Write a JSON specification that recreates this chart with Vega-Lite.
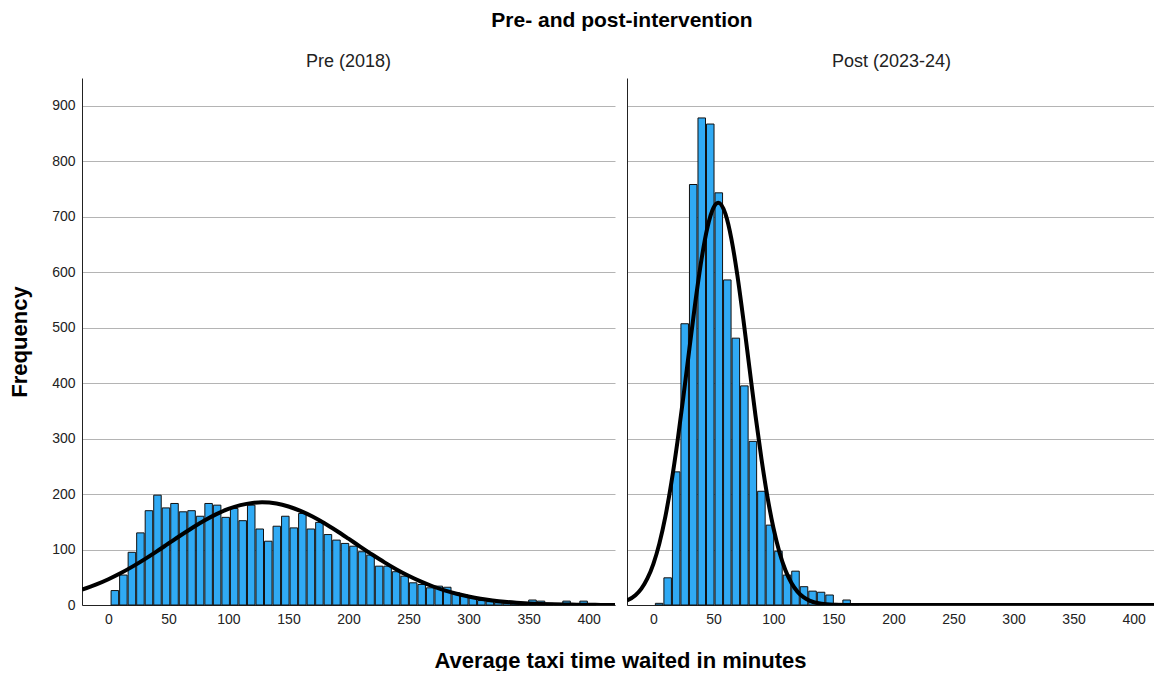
{
  "$schema": "https://vega.github.io/schema/vega-lite/v6.json",
  "background": "white",
  "padding": {"left": 8, "top": 10, "right": 0, "bottom": 0},
  "bounds": "flush",
  "spacing": 12,
  "title": {"text": "Pre- and post-intervention", "font": "Liberation Sans", "fontSize": 21, "fontWeight": "bold", "color": "#000", "anchor": "middle", "frame": "group", "dx": 540, "offset": 22},
  "config": {
    "font": "Liberation Sans",
    "view": {"stroke": null},
    "axis": {"labelFont": "Liberation Sans", "labelFontSize": 14, "labelColor": "#222", "ticks": false, "domainColor": "#222", "domainWidth": 1, "gridColor": "#b4b4b4", "gridWidth": 1, "titleFont": "Liberation Sans", "titleFontWeight": "bold", "titleFontSize": 22, "titleColor": "#000"},
    "title": {"font": "Liberation Sans", "fontSize": 18, "fontWeight": "normal", "color": "#222", "offset": 7}
  },
  "resolve": {"scale": {"x": "independent", "y": "shared"}},
  "datasets": {
    "pre_bars": [
      {"start": 1.4, "count": 26}, {"start": 8.5, "count": 54}, {"start": 15.6, "count": 95}, {"start": 22.7, "count": 130}, {"start": 29.8, "count": 170},
      {"start": 36.9, "count": 198}, {"start": 44, "count": 175}, {"start": 51.1, "count": 183}, {"start": 58.2, "count": 168}, {"start": 65.3, "count": 170},
      {"start": 72.4, "count": 160}, {"start": 79.5, "count": 183}, {"start": 86.6, "count": 180}, {"start": 93.7, "count": 158}, {"start": 100.8, "count": 174},
      {"start": 107.9, "count": 152}, {"start": 115, "count": 180}, {"start": 122.1, "count": 137}, {"start": 129.2, "count": 115}, {"start": 136.3, "count": 142},
      {"start": 143.4, "count": 160}, {"start": 150.5, "count": 139}, {"start": 157.6, "count": 165}, {"start": 164.7, "count": 137}, {"start": 171.8, "count": 149},
      {"start": 178.9, "count": 127}, {"start": 186, "count": 117}, {"start": 193.1, "count": 111}, {"start": 200.2, "count": 106}, {"start": 207.3, "count": 96},
      {"start": 214.4, "count": 90}, {"start": 221.5, "count": 70}, {"start": 228.6, "count": 70}, {"start": 235.7, "count": 60}, {"start": 242.8, "count": 52},
      {"start": 249.9, "count": 40}, {"start": 257, "count": 37}, {"start": 264.1, "count": 31}, {"start": 271.2, "count": 34}, {"start": 278.3, "count": 32},
      {"start": 285.4, "count": 22}, {"start": 292.5, "count": 18}, {"start": 299.6, "count": 15}, {"start": 306.7, "count": 8}, {"start": 313.8, "count": 6},
      {"start": 320.9, "count": 4}, {"start": 328, "count": 3}, {"start": 335.1, "count": 2}, {"start": 342.2, "count": 2}, {"start": 349.3, "count": 9},
      {"start": 356.4, "count": 7}, {"start": 363.5, "count": 3}, {"start": 370.6, "count": 2}, {"start": 377.7, "count": 7}, {"start": 384.8, "count": 2},
      {"start": 391.9, "count": 7}, {"start": 399, "count": 1}
    ],
    "post_bars": [
      {"start": 0.8, "count": 3}, {"start": 7.9, "count": 49}, {"start": 15, "count": 240}, {"start": 22.1, "count": 507}, {"start": 29.2, "count": 758},
      {"start": 36.3, "count": 878}, {"start": 43.4, "count": 867}, {"start": 50.5, "count": 743}, {"start": 57.6, "count": 586}, {"start": 64.7, "count": 481},
      {"start": 71.8, "count": 395}, {"start": 78.9, "count": 295}, {"start": 86, "count": 205}, {"start": 93.1, "count": 144}, {"start": 100.2, "count": 97},
      {"start": 107.3, "count": 54}, {"start": 114.4, "count": 61}, {"start": 121.5, "count": 33}, {"start": 128.6, "count": 25}, {"start": 135.7, "count": 23},
      {"start": 142.8, "count": 18}, {"start": 149.9, "count": 3}, {"start": 157, "count": 9}, {"start": 164.1, "count": 2}
    ],
    "pre_curve": [
      {"x": -22, "y": 27.8}, {"x": -10, "y": 37.1}, {"x": 0, "y": 46.5}, {"x": 10, "y": 57.2}, {"x": 20, "y": 69.2}, {"x": 30, "y": 82.3},
      {"x": 40, "y": 96.3}, {"x": 50, "y": 110.8}, {"x": 60, "y": 125.3}, {"x": 70, "y": 139.3}, {"x": 80, "y": 152.3}, {"x": 90, "y": 163.8},
      {"x": 100, "y": 173.2}, {"x": 110, "y": 180.0}, {"x": 120, "y": 184.0}, {"x": 128, "y": 185}, {"x": 140, "y": 182.8}, {"x": 150, "y": 177.6},
      {"x": 160, "y": 169.7}, {"x": 170, "y": 159.4}, {"x": 180, "y": 147.3}, {"x": 190, "y": 133.8}, {"x": 200, "y": 119.5}, {"x": 210, "y": 104.9},
      {"x": 220, "y": 90.6}, {"x": 230, "y": 76.9}, {"x": 240, "y": 64.2}, {"x": 250, "y": 52.7}, {"x": 260, "y": 42.6}, {"x": 270, "y": 33.8},
      {"x": 280, "y": 26.4}, {"x": 290, "y": 20.2}, {"x": 300, "y": 15.3}, {"x": 310, "y": 11.3}, {"x": 320, "y": 8.3}, {"x": 330, "y": 5.9},
      {"x": 340, "y": 4.2}, {"x": 350, "y": 2.9}, {"x": 360, "y": 2.0}, {"x": 370, "y": 1.3}, {"x": 380, "y": 0.9}, {"x": 390, "y": 0.6},
      {"x": 400, "y": 0.4}, {"x": 410, "y": 0.2}, {"x": 422, "y": 0.1}
    ],
    "post_curve": [
      {"x": -22, "y": 8.0}, {"x": -15, "y": 17.6}, {"x": -10, "y": 29.6}, {"x": -5, "y": 47.8}, {"x": 0, "y": 74.3}, {"x": 5, "y": 111.1},
      {"x": 10, "y": 159.8}, {"x": 15, "y": 221}, {"x": 20, "y": 293.9}, {"x": 25, "y": 375.8}, {"x": 30, "y": 462.3}, {"x": 35, "y": 546.9},
      {"x": 40, "y": 622.1}, {"x": 45, "y": 680.6}, {"x": 50, "y": 716}, {"x": 54, "y": 725}, {"x": 60, "y": 704.9}, {"x": 65, "y": 659.6},
      {"x": 70, "y": 593.6}, {"x": 75, "y": 513.7}, {"x": 80, "y": 427.6}, {"x": 85, "y": 342.2}, {"x": 90, "y": 263.5}, {"x": 95, "y": 195.0},
      {"x": 100, "y": 138.8}, {"x": 105, "y": 95.1}, {"x": 110, "y": 62.6}, {"x": 115, "y": 39.6}, {"x": 120, "y": 24.1}, {"x": 125, "y": 14.1},
      {"x": 130, "y": 8.0}, {"x": 140, "y": 2.2}, {"x": 150, "y": 0.5}, {"x": 160, "y": 0.1}, {"x": 180, "y": 0}, {"x": 418.7, "y": 0}
    ]
  },
  "hconcat": [
    {
      "title": {"text": "Pre (2018)"},
      "width": 533,
      "height": 527,
      "layer": [
        {
          "data": {"name": "pre_bars"},
          "mark": {"type": "bar", "fill": "#30aaf4", "stroke": "#111", "strokeWidth": 1, "opacity": 1},
          "encoding": {
            "x": {"field": "start", "type": "quantitative", "bin": {"binned": true, "step": 7.1},
              "scale": {"domain": [-22, 422], "nice": false, "zero": false},
              "axis": {"values": [0, 50, 100, 150, 200, 250, 300, 350, 400], "grid": false, "labelPadding": 7, "title": "Average taxi time waited in minutes", "titleX": 538, "titleY": 45, "titleBaseline": "top", "titleAlign": "center"}},
            "y": {"field": "count", "type": "quantitative", "scale": {"domain": [0, 950], "nice": false},
              "axis": {"values": [0, 100, 200, 300, 400, 500, 600, 700, 800, 900], "grid": true, "labelPadding": 7, "title": "Frequency", "titlePadding": 20}}
          }
        },
        {
          "data": {"name": "pre_curve"},
          "mark": {"type": "line", "color": "#000", "strokeWidth": 4, "interpolate": "monotone", "clip": true},
          "encoding": {
            "x": {"field": "x", "type": "quantitative"},
            "y": {"field": "y", "type": "quantitative"}
          }
        }
      ]
    },
    {
      "title": {"text": "Post (2023-24)"},
      "width": 529,
      "height": 527,
      "layer": [
        {
          "data": {"name": "post_bars"},
          "mark": {"type": "bar", "fill": "#30aaf4", "stroke": "#111", "strokeWidth": 1, "opacity": 1},
          "encoding": {
            "x": {"field": "start", "type": "quantitative", "bin": {"binned": true, "step": 7.1},
              "scale": {"domain": [-22, 418.7], "nice": false, "zero": false},
              "axis": {"values": [0, 50, 100, 150, 200, 250, 300, 350, 400], "grid": false, "labelPadding": 7, "title": null}},
            "y": {"field": "count", "type": "quantitative", "scale": {"domain": [0, 950], "nice": false},
              "axis": {"values": [0, 100, 200, 300, 400, 500, 600, 700, 800, 900], "grid": true, "labels": false, "title": null}}
          }
        },
        {
          "data": {"name": "post_curve"},
          "mark": {"type": "line", "color": "#000", "strokeWidth": 4, "interpolate": "monotone", "clip": true},
          "encoding": {
            "x": {"field": "x", "type": "quantitative"},
            "y": {"field": "y", "type": "quantitative"}
          }
        }
      ]
    }
  ]
}
